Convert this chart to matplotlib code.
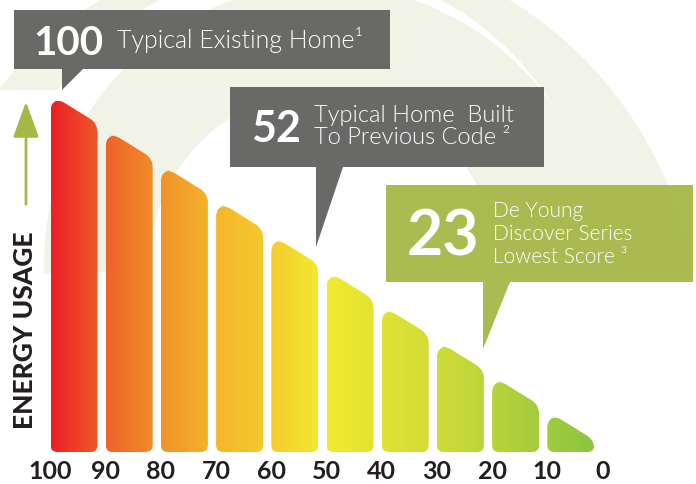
import numpy as np
import matplotlib
matplotlib.use("Agg")
import matplotlib.pyplot as plt
from matplotlib.path import Path
from matplotlib.patches import PathPatch, Polygon, Wedge
from matplotlib.colors import LinearSegmentedColormap

# HERS index scale: one bar per step, height = energy usage
scores = [100, 90, 80, 70, 60, 50, 40, 30, 20, 10]
usage = [100, 90, 80, 70, 60, 50, 40, 30, 20, 10]
tick_values = [100, 90, 80, 70, 60, 50, 40, 30, 20, 10, 0]
tick_labels = ["100", "90", "80", "70", "60", "50", "40", "30", "20", "10", "0"]

callout_numbers = ["100", "52", "23"]
callout_lines = [
    ["Typical Existing Home"],
    ["Typical Home  Built", "To Previous Code"],
    ["De Young", "Discover Series", "Lowest Score"],
]
callout_notes = ["\u00b9", " \u00b2", " \u00b3"]
axis_title = "ENERGY USAGE"

W, H = 696, 484
SX, SY = 5.52, 3.52      # pixels per score unit / per usage unit
X0, Y0 = 50.5, 452       # pixel of score 100 and of usage 0
BAR_W = 47               # bar width, pixels

FONT = "Lato"
DARK = "#231f20"
GREY_BOX = "#636361"
GREEN_BOX = "#a7b84b"
GREEN = "#a4b846"
BG_SHAPE = "#f1f3e6"

grad = LinearSegmentedColormap.from_list("hers", [
    (0.00, "#ec2027"), (0.10, "#ef6229"), (0.20, "#f0922a"), (0.30, "#f4b52c"),
    (0.42, "#f5d02e"), (0.50, "#f2ea30"), (0.62, "#dfe233"), (0.75, "#c8d938"),
    (0.88, "#a9ce3d"), (1.00, "#8cc640")])


def to_px(x, y):
    return X0 + (100 - x) * SX, Y0 - y * SY


def to_data(px, py):
    return 100 - (px - X0) / SX, (Y0 - py) / SY


def rounded_path(pts, radii):
    verts, codes = [], []
    n = len(pts)
    for i in range(n):
        p = np.array(pts[i], float)
        a = np.array(pts[i - 1], float)
        b = np.array(pts[(i + 1) % n], float)
        da = (a - p) / np.linalg.norm(a - p)
        db = (b - p) / np.linalg.norm(b - p)
        verts += [p + radii[i] * da, p, p + radii[i] * db]
        codes += [Path.MOVETO if i == 0 else Path.LINETO, Path.CURVE3, Path.CURVE3]
    verts.append(verts[0])
    codes.append(Path.CLOSEPOLY)
    return verts, codes


def arc(cx, cy, r, t0, t1, n=150):
    t = np.radians(np.linspace(t0, t1, n))
    return np.c_[cx + r * np.cos(t), cy + r * np.sin(t)]


fig = plt.figure(figsize=(W / 100, H / 100), dpi=100)
fig.patch.set_facecolor("white")

# background watermark rings (pixel coordinates, y down)
bg = fig.add_axes([0, 0, 1, 1])
bg.set_xlim(0, W)
bg.set_ylim(H, 0)
bg.axis("off")
bg.add_patch(Wedge((323, 264), 279, 178, 362, width=106,
                   facecolor=BG_SHAPE, edgecolor="none"))
crescent = np.vstack([arc(305, 335, 392.5, 218.6, 350.5),
                      arc(300, 262, 297.5, 361.5, 215.3)])
bg.add_patch(Polygon(crescent, closed=True, facecolor=BG_SHAPE, edgecolor="none"))

# data axes: x = HERS score (reversed), y = energy usage
ax = fig.add_axes([0, (H - Y0) / H, 1, Y0 / H])
ax.set_xlim(to_data(0, 0)[0], to_data(W, 0)[0])
ax.set_ylim(0, Y0 / SY)
ax.patch.set_alpha(0)
for s in ax.spines.values():
    s.set_visible(False)
ax.set_yticks([])
ax.set_xticks(tick_values)
ax.set_xticklabels(tick_labels, fontfamily=FONT, fontweight="bold",
                   fontsize=18, color=DARK)
ax.tick_params(axis="x", length=0, pad=6)

span = (to_px(scores[0], 0)[0], to_px(scores[-1], 0)[0] + BAR_W)
for s, v in zip(scores, usage):
    lx, ty = to_px(s, v)
    by = Y0
    rx = lx + BAR_W
    apex = lx + 0.2 * BAR_W
    corner = ty + 0.62 * (rx - apex)
    pts = [(lx, by), (lx, ty), (apex, ty), (rx, corner), (rx, by)]
    verts, codes = rounded_path(pts, [7, 11, 6, 9, 7])
    verts = [to_data(*p) for p in verts]
    patch = PathPatch(Path(verts, codes), facecolor="none", edgecolor="none",
                      transform=ax.transData)
    ax.add_patch(patch)
    f0 = (lx - span[0]) / (span[1] - span[0])
    f1 = (rx - span[0]) / (span[1] - span[0])
    g = grad(np.linspace(f0, f1, 64))[None, :, :]
    x_l, _ = to_data(lx, 0)
    x_r, _ = to_data(rx, 0)
    im = ax.imshow(g, extent=(x_l, x_r, 0, v + 2), aspect="auto",
                   interpolation="bilinear", zorder=2)
    im.set_clip_path(patch)

# overlay axes for callouts and labels (pixel coordinates)
ov = fig.add_axes([0, 0, 1, 1])
ov.set_xlim(0, W)
ov.set_ylim(H, 0)
ov.axis("off")

boxes = [
    [(14, 10), (390, 10), (390, 69), (83, 69), (62, 90), (62, 69), (14, 69)],
    [(230, 87), (544, 87), (544, 167), (343, 167), (316, 247), (316, 167), (230, 167)],
    [(386, 185), (693, 185), (693, 282), (510, 282), (483, 349), (483, 282), (386, 282)],
]
box_colors = [GREY_BOX, GREY_BOX, GREEN_BOX]
num_pos = [(33, 55, 29), (251, 142, 31), (407, 255, 45)]
# x, baseline of last line, size, line spacing
line_pos = [(117, 48, 18, 1.0), (314, 144, 17, 1.05), (493, 263, 15, 1.18)]

for k in range(3):
    ov.add_patch(Polygon(boxes[k], closed=True, facecolor=box_colors[k],
                         edgecolor="none", alpha=0.96))
    nx, ny, ns = num_pos[k]
    ov.text(nx, ny, callout_numbers[k], color="white", fontfamily=FONT,
            fontweight="bold", fontsize=ns, va="baseline", ha="left")
    lx, yb, ls, lsp = line_pos[k]
    lines = callout_lines[k][:-1] + [callout_lines[k][-1] + callout_notes[k]]
    ov.text(lx, yb, "\n".join(lines), color="white", fontfamily=FONT,
            fontweight=300, fontsize=ls, va="baseline", ha="left",
            linespacing=lsp)

# vertical axis title and arrow
ov.text(25, 330, axis_title, rotation=90, ha="center", va="center",
        fontfamily=FONT, fontweight="black", fontsize=19, color=DARK)
ov.annotate("", xy=(26, 99), xytext=(26, 207),
            arrowprops=dict(arrowstyle="-|>,head_length=2.2,head_width=0.8",
                            color=GREEN, lw=2))

fig.savefig("out.png", dpi=100, facecolor="white")
